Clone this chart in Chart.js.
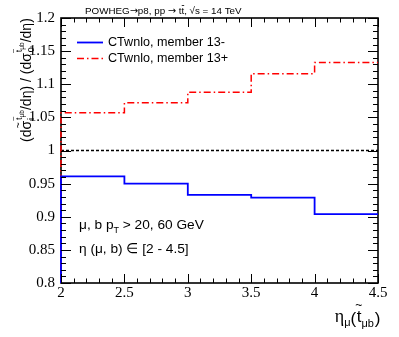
<!DOCTYPE html>
<html>
<head>
<meta charset="utf-8">
<script src="https://cdn.jsdelivr.net/npm/chart.js@4.4.1/dist/chart.umd.min.js"></script>
<style>
html, body { margin: 0; padding: 0; background: #fff; }
#wrap { width: 399px; height: 337px; }
</style>
</head>
<body>
<div id="wrap"><canvas id="ratioChart" width="399" height="337"></canvas></div>
<script>
// bin edges of eta_mu(t~_mub) and the two PDF member ratios
const binEdges = [2, 2.5, 3, 3.5, 4, 4.5]
const minusVals = [0.961, 0.950, 0.933, 0.929, 0.904]
const plusVals = [1.057, 1.072, 1.088, 1.116, 1.133]
const refLine = [1, 1]
const seriesLabels = ['CTwnlo, member 13-', 'CTwnlo, member 13+']
const xTicks = [2, 2.5, 3, 3.5, 4, 4.5]
const yTicks = [0.8, 0.85, 0.9, 0.95, 1, 1.05, 1.1, 1.15, 1.2]

const SANS = '"Liberation Sans", Arial, sans-serif'
const SERIF = '"Liberation Serif", "Times New Roman", serif'

//turn bin contents into points for a stepped line (starts from the axis floor like ROOT)
function histPoints(vals) {
    let pts = [{ x: binEdges[0], y: yTicks[0] }]
    for (let i = 0; i < vals.length; i++)
        pts.push({ x: binEdges[i], y: vals[i] })
    pts.push({ x: binEdges[binEdges.length - 1], y: vals[vals.length - 1] })
    return pts
}

//frame under the lines, ROOT style inner ticks on all four sides on top
const frameTicks = {
    id: 'frameTicks',
    beforeDatasetsDraw(chart) {
        const { ctx, chartArea: a } = chart
        ctx.save()
        ctx.setLineDash([])
        ctx.strokeStyle = '#000'
        ctx.lineWidth = 1.6
        ctx.strokeRect(a.left, a.top, a.right - a.left, a.bottom - a.top)
        ctx.restore()
    },
    afterDatasetsDraw(chart) {
        const { ctx, chartArea: a } = chart
        const xs = chart.scales.x, ys = chart.scales.y
        ctx.save()
        ctx.fillStyle = '#000'
        for (let i = 0; i < xTicks.length; i++) {
            let px = Math.round(xs.getPixelForValue(xTicks[i]))
            ctx.fillRect(px, a.bottom - 9, 1, 9)
            ctx.fillRect(px, a.top, 1, 9)
            if (i < xTicks.length - 1) {
                let step = (xTicks[i + 1] - xTicks[i]) / 5
                for (let k = 1; k < 5; k++) {
                    let mx = Math.round(xs.getPixelForValue(xTicks[i] + k * step))
                    ctx.fillRect(mx, a.bottom - 4.5, 1, 4.5)
                    ctx.fillRect(mx, a.top, 1, 4.5)
                }
            }
        }
        for (let i = 0; i < yTicks.length; i++) {
            let py = Math.round(ys.getPixelForValue(yTicks[i]))
            ctx.fillRect(a.left, py, 10, 1)
            ctx.fillRect(a.right - 10, py, 10, 1)
            if (i < yTicks.length - 1) {
                let step = (yTicks[i + 1] - yTicks[i]) / 5
                for (let k = 1; k < 5; k++) {
                    let my = Math.round(ys.getPixelForValue(yTicks[i] + k * step))
                    ctx.fillRect(a.left, my, 5, 1)
                    ctx.fillRect(a.right - 5, my, 5, 1)
                }
            }
        }
        ctx.restore()
    }
}

//small helper: draw a run of text pieces, returns new x
function put(ctx, text, x, y, size, family) {
    ctx.font = size + 'px ' + (family || SANS)
    ctx.fillText(text, x, y)
    return x + ctx.measureText(text).width
}

//tilde centred over a glyph
function tilde(ctx, x0, x1, y, size) {
    ctx.save()
    ctx.textAlign = 'center'
    ctx.font = size + 'px ' + SANS
    ctx.fillText('~', (x0 + x1) / 2, y)
    ctx.restore()
}

//titles, legend and the cut annotations
const textLayer = {
    id: 'textLayer',
    afterDraw(chart) {
        const { ctx, data } = chart
        ctx.save()
        ctx.fillStyle = '#000'
        ctx.textBaseline = 'alphabetic'

        // top title
        let tx = put(ctx, 'POWHEG', 85, 14, 9.8)
        tx = put(ctx, '\u2192', tx, 14, 9.8, '"DejaVu Sans"')
        tx = put(ctx, 'p8, pp ', tx, 14, 9.8)
        tx = put(ctx, '\u2192', tx, 14, 9.8, '"DejaVu Sans"')
        tx = put(ctx, ' t', tx, 14, 9.8)
        let t0 = tx
        tx = put(ctx, 't', tx, 14, 9.8)
        ctx.fillRect(t0 + 0.3, 5, tx - t0 - 0.3, 0.8)
        tx = put(ctx, ', \u221As = 14 TeV', tx, 14, 9.8)

        // legend
        const rows = [42, 58]
        for (let i = 0; i < 2; i++) {
            const ds = data.datasets[i]
            ctx.save()
            ctx.strokeStyle = ds.borderColor
            ctx.lineWidth = ds.borderWidth
            ctx.setLineDash(ds.borderDash || [])
            ctx.beginPath()
            ctx.moveTo(77, rows[i] + 0.5)
            ctx.lineTo(103, rows[i] + 0.5)
            ctx.stroke()
            ctx.restore()
            ctx.textBaseline = 'middle'
            put(ctx, ds.label, 108, rows[i] + 0.5, 12.6)
            ctx.textBaseline = 'alphabetic'
        }

        // cut annotations
        let ax = put(ctx, '\u03BC, b p', 79, 229, 13.7)
        ax = put(ctx, 'T', ax, 233, 9)
        put(ctx, ' > 20, 60 GeV', ax, 229, 13.7)
        put(ctx, '\u03B7 (\u03BC, b) \u2208 [2 - 4.5]', 79, 253, 13.7)

        // x axis title, right aligned at the frame end
        ctx.font = '18px ' + SERIF
        let wEta = ctx.measureText('\u03B7').width
        ctx.font = '11px ' + SANS
        let wMu = ctx.measureText('\u03BC').width
        let wMub = ctx.measureText('\u03BCb').width
        ctx.font = '17px ' + SANS
        let wPar = ctx.measureText('(').width
        let wT = ctx.measureText('t').width
        let total = wEta + wMu + 2 * wPar + wT + wMub + 1
        let xx = 380 - total
        xx = put(ctx, '\u03B7', xx, 322, 18, SERIF)
        xx = put(ctx, '\u03BC', xx, 326, 11)
        xx = put(ctx, '(', xx, 324, 17)
        let tStart = xx
        xx = put(ctx, 't', xx + 0.5, 322, 17)
        tilde(ctx, tStart, xx, 309, 12)
        xx = put(ctx, '\u03BCb', xx, 327, 11)
        put(ctx, ')', xx + 1, 324, 17)

        // y axis title, rotated, reading upwards
        ctx.translate(31, 142)
        ctx.rotate(-Math.PI / 2)
        let u = put(ctx, '(d', 0, 0, 14)
        let s0 = u
        u = put(ctx, '\u03C3', u, 0, 14)
        tilde(ctx, s0, u, -9, 10)
        let sub = put(ctx, 'i', u + 1, 3, 9)
        let sup = put(ctx, 't', u + 1, -9, 9)
        tilde(ctx, u + 1, sup, -15, 8)
        sup = put(ctx, '\u03BCb', sup, -7, 6.5)
        u = Math.max(sub, sup)
        u = put(ctx, '/d\u03B7) / (d\u03C3', u, 0, 14)
        sub = put(ctx, '0', u + 1, 3, 9)
        sup = put(ctx, 't', u + 1, -9, 9)
        tilde(ctx, u + 1, sup, -15, 8)
        sup = put(ctx, '\u03BCb', sup, -7, 6.5)
        u = Math.max(sub, sup)
        put(ctx, '/d\u03B7)', u, 0, 14)

        ctx.restore()
    }
}

const ctxEl = document.getElementById('ratioChart').getContext('2d')
const ratioChart = new Chart(ctxEl, {
    type: 'line',
    data: {
        datasets: [{
            label: seriesLabels[0],
            data: histPoints(minusVals),
            borderColor: '#0000ff',
            borderWidth: 1.8,
            stepped: true,
            pointRadius: 0,
            fill: false,
            clip: 4
        }, {
            label: seriesLabels[1],
            data: histPoints(plusVals),
            borderColor: '#ff0000',
            borderWidth: 1.5,
            borderDash: [7, 3, 1.5, 3],
            stepped: true,
            pointRadius: 0,
            fill: false,
            clip: 4
        }, {
            label: 'reference',
            data: [{ x: binEdges[0], y: refLine[0] }, { x: binEdges[binEdges.length - 1], y: refLine[1] }],
            borderColor: '#000000',
            borderWidth: 1.5,
            borderDash: [3, 2],
            pointRadius: 0,
            fill: false
        }]
    },
    options: {
        responsive: false,
        animation: false,
        events: [],
        layout: { padding: { top: 18, right: 21, left: 0, bottom: 0 } },
        plugins: {
            legend: { display: false },
            title: { display: false },
            tooltip: { enabled: false }
        },
        scales: {
            x: {
                type: 'linear',
                min: 2,
                max: 4.5,
                grid: { display: false, drawTicks: false },
                border: { display: false },
                afterBuildTicks: (s) => { s.ticks = xTicks.map(v => ({ value: v })) },
                afterFit: (s) => { s.height = 54 },
                ticks: {
                    color: '#000',
                    padding: 1,
                    maxRotation: 0,
                    autoSkip: false,
                    font: { family: SERIF, size: 15 },
                    callback: (v) => String(v)
                }
            },
            y: {
                type: 'linear',
                min: 0.8,
                max: 1.2,
                grid: { display: false, drawTicks: false },
                border: { display: false },
                afterBuildTicks: (s) => { s.ticks = yTicks.map(v => ({ value: v })) },
                afterFit: (s) => { s.width = 61 },
                ticks: {
                    color: '#000',
                    padding: 6,
                    autoSkip: false,
                    font: { family: SERIF, size: 15 },
                    callback: (v) => String(v)
                }
            }
        }
    },
    plugins: [frameTicks, textLayer]
})
</script>
</body>
</html>
